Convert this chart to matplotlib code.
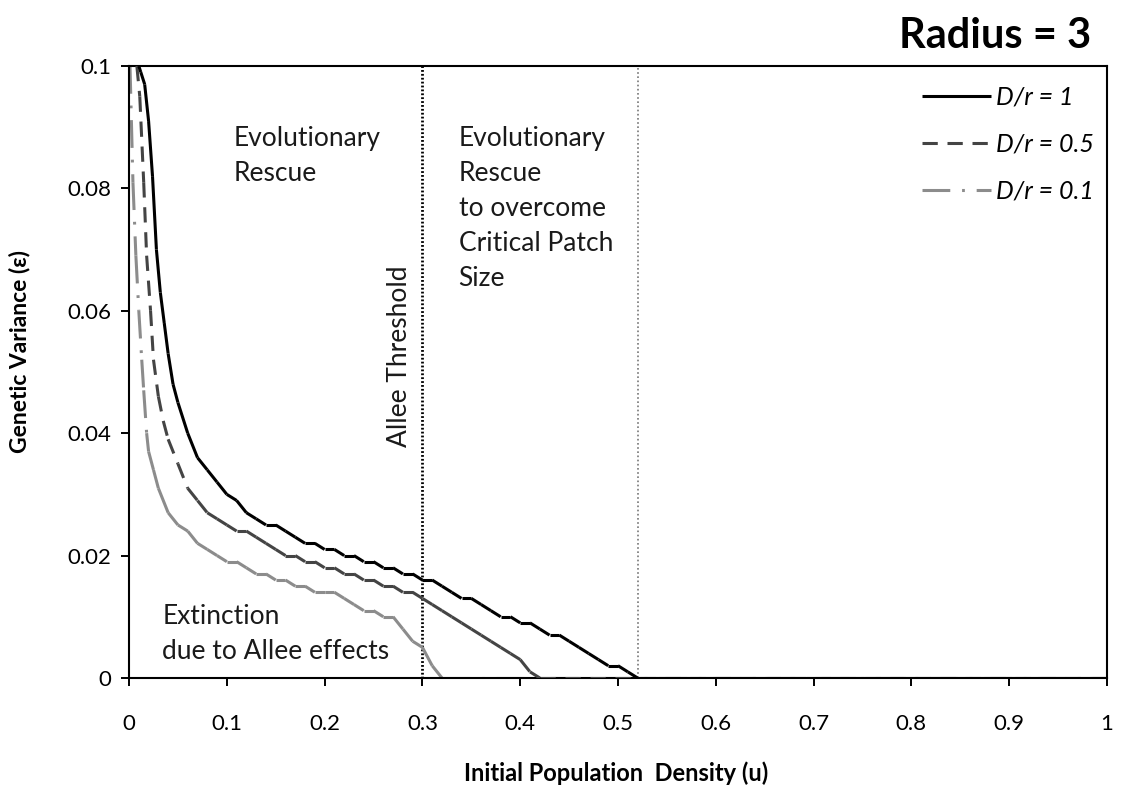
import matplotlib
matplotlib.use("Agg")
import matplotlib.pyplot as plt
from matplotlib.collections import LineCollection
from matplotlib.lines import Line2D

plt.rcParams['font.family'] = ['Lato', 'DejaVu Sans']
plt.rcParams['lines.scale_dashes'] = False

# Critical genetic variance vs. initial population density, radius = 3
u_d1 = [0.010, 0.012, 0.016, 0.020, 0.024, 0.028, 0.032, 0.036, 0.040, 0.045, 0.05, 0.06, 0.07,
        0.08, 0.09, 0.10, 0.11, 0.12, 0.13, 0.14, 0.15, 0.16, 0.17, 0.18, 0.19, 0.20,
        0.21, 0.22, 0.23, 0.24, 0.25, 0.26, 0.27, 0.28, 0.29, 0.30, 0.31, 0.32, 0.33,
        0.34, 0.35, 0.36, 0.37, 0.38, 0.39, 0.40, 0.41, 0.42, 0.43, 0.44, 0.45, 0.46,
        0.47, 0.48, 0.49, 0.50, 0.51, 0.52, 1.00]
eps_d1 = [0.100, 0.099, 0.097, 0.091, 0.082, 0.070, 0.063, 0.058, 0.053, 0.048, 0.045, 0.040, 0.036,
          0.034, 0.032, 0.030, 0.029, 0.027, 0.026, 0.025, 0.025, 0.024, 0.023, 0.022, 0.022, 0.021,
          0.021, 0.020, 0.020, 0.019, 0.019, 0.018, 0.018, 0.017, 0.017, 0.016, 0.016, 0.015, 0.014,
          0.013, 0.013, 0.012, 0.011, 0.010, 0.010, 0.009, 0.009, 0.008, 0.007, 0.007, 0.006, 0.005,
          0.004, 0.003, 0.002, 0.002, 0.001, 0.000, 0.000]

u_d05 = [0.008, 0.011, 0.015, 0.018, 0.022, 0.025, 0.030, 0.035, 0.040, 0.05, 0.06, 0.07, 0.08,
         0.09, 0.10, 0.11, 0.12, 0.13, 0.14, 0.15, 0.16, 0.17, 0.18, 0.19, 0.20, 0.21, 0.22,
         0.23, 0.24, 0.25, 0.26, 0.27, 0.28, 0.29, 0.30, 0.31, 0.32, 0.33, 0.34, 0.35, 0.36,
         0.37, 0.38, 0.39, 0.40, 0.41, 0.42, 1.00]
eps_d05 = [0.100, 0.095, 0.081, 0.069, 0.060, 0.052, 0.046, 0.042, 0.039, 0.035, 0.031, 0.029, 0.027,
           0.026, 0.025, 0.024, 0.024, 0.023, 0.022, 0.021, 0.020, 0.020, 0.019, 0.019, 0.018, 0.018, 0.017,
           0.017, 0.016, 0.016, 0.015, 0.015, 0.014, 0.014, 0.013, 0.012, 0.011, 0.010, 0.009, 0.008, 0.007,
           0.006, 0.005, 0.004, 0.003, 0.001, 0.000, 0.000]

u_d01 = [0.001, 0.004, 0.007, 0.010, 0.013, 0.015, 0.018, 0.020, 0.025, 0.03, 0.04, 0.05, 0.06,
         0.07, 0.08, 0.09, 0.10, 0.11, 0.12, 0.13, 0.14, 0.15, 0.16, 0.17, 0.18, 0.19, 0.20,
         0.21, 0.22, 0.23, 0.24, 0.25, 0.26, 0.27, 0.28, 0.29, 0.30, 0.31, 0.32, 1.00]
eps_d01 = [0.100, 0.081, 0.069, 0.060, 0.052, 0.047, 0.040, 0.037, 0.034, 0.031, 0.027, 0.025, 0.024,
           0.022, 0.021, 0.020, 0.019, 0.019, 0.018, 0.017, 0.017, 0.016, 0.016, 0.015, 0.015, 0.014, 0.014,
           0.014, 0.013, 0.012, 0.011, 0.011, 0.010, 0.010, 0.008, 0.006, 0.005, 0.002, 0.000, 0.000]

series_labels = ["D/r = 1", "D/r = 0.5", "D/r = 0.1"]

allee_threshold = 0.30
critical_patch = 0.52

x_ticks = [0, 0.1, 0.2, 0.3, 0.4, 0.5, 0.6, 0.7, 0.8, 0.9, 1.0]
x_tick_labels = ["0", "0.1", "0.2", "0.3", "0.4", "0.5", "0.6", "0.7", "0.8", "0.9", "1"]
y_ticks = [0, 0.02, 0.04, 0.06, 0.08, 0.1]
y_tick_labels = ["0", "0.02", "0.04", "0.06", "0.08", "0.1"]

# line styles (dash patterns in points, restarted at every data point)
LW = 2.2
styles = [
    dict(color="black", ls="-"),
    dict(color="#444444", ls=(0, (11, 7))),
    dict(color="#8c8c8c", ls=(0, (20, 8.5, 2, 8.5))),
]

fig = plt.figure(figsize=(11.22, 7.92), dpi=100)
ax = fig.add_axes([0.115, 0.144, 0.8716, 0.7727])

ax.axvline(allee_threshold, color="black", lw=2.0, ls=(0, (1.3, 1.5)), zorder=1)
ax.axvline(critical_patch, color="#8a8a8a", lw=1.4, ls=(0, (1.2, 1.8)), zorder=1)


def draw_series(u, eps, style, z):
    segs = [[(u[i], eps[i]), (u[i + 1], eps[i + 1])] for i in range(len(u) - 1)]
    lc = LineCollection(segs, colors=style["color"], linewidths=LW,
                        linestyles=style["ls"], capstyle="butt", joinstyle="round",
                        zorder=z)
    ax.add_collection(lc)


draw_series(u_d01, eps_d01, styles[2], 2)
draw_series(u_d05, eps_d05, styles[1], 3)
draw_series(u_d1, eps_d1, styles[0], 4)

ax.set_xlim(0, 1)
ax.set_ylim(0, 0.1)
ax.set_xticks(x_ticks)
ax.set_xticklabels(x_tick_labels)
ax.set_yticks(y_ticks)
ax.set_yticklabels(y_tick_labels)
ax.tick_params(axis="both", direction="out", length=6, width=1.4, labelsize=16, colors="black")
ax.tick_params(axis="x", pad=20)
ax.tick_params(axis="y", pad=7)
for s in ax.spines.values():
    s.set_linewidth(1.5)

ax.set_xlabel("Initial Population  Density (u)", fontsize=17, fontweight="bold", va="center")
ax.set_ylabel("Genetic Variance (\u03b5)", fontsize=16.5, fontweight="bold", va="center")
ax.xaxis.set_label_coords(0.4985, -0.155)
ax.yaxis.set_label_coords(-0.1116, 0.533)

handles = [Line2D([], [], color=st["color"], lw=LW, ls=st["ls"], solid_capstyle="butt",
                  dash_capstyle="butt") for st in styles]
leg = ax.legend(handles=handles, labels=series_labels, loc="upper right",
                bbox_to_anchor=(1.002, 0.993), frameon=False, fontsize=18,
                handlelength=2.75, labelspacing=0.97, handletextpad=0.2, borderaxespad=0.2)
for t in leg.get_texts():
    t.set_fontstyle("italic")

txt_kw = dict(fontsize=19, color="#1a1a1a", va="top", ha="left", linespacing=1.5)
ax.text(0.107, 0.0902, "Evolutionary\nRescue", **txt_kw)
ax.text(0.337, 0.0902, "Evolutionary\nRescue\nto overcome\nCritical Patch\nSize", **txt_kw)
ax.text(0.034, 0.0121, "Extinction\ndue to Allee effects", **txt_kw)
ax.text(0.277, 0.0525, "Allee Threshold", fontsize=19, color="#1a1a1a", rotation=90,
        ha="center", va="center")

fig.text(0.973, 0.955, "Radius = 3", fontsize=30, fontweight="bold", ha="right", va="center")

fig.savefig("out.png", dpi=100)
